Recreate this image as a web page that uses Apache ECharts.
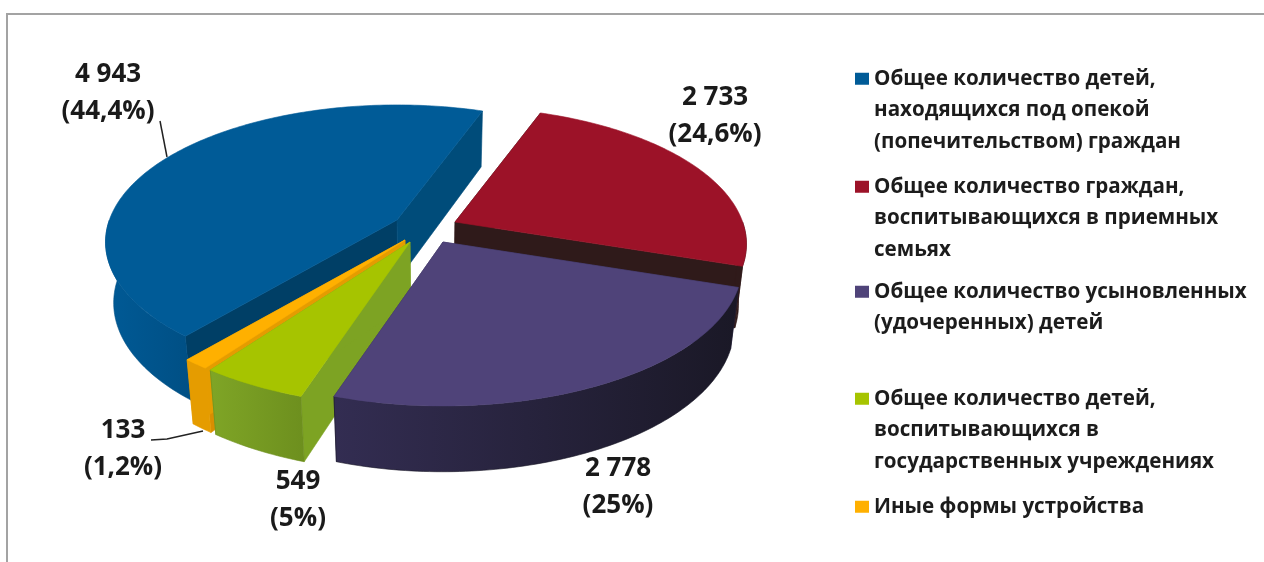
<!DOCTYPE html>
<html><head><meta charset="utf-8">
<style>html,body{margin:0;padding:0;background:#fff}#c{width:1264px;height:562px}</style>
<script src="https://cdn.jsdelivr.net/npm/echarts@6/dist/echarts.min.js"></script>
</head><body><div id="c"></div>
<script>
// --- data ---
const categories = [
  'Общее количество детей,\nнаходящихся под опекой\n(попечительством) граждан',
  'Общее количество граждан,\nвоспитывающихся в приемных\nсемьях',
  'Общее количество усыновленных\n(удочеренных) детей',
  'Общее количество детей,\nвоспитывающихся в\nгосударственных учреждениях',
  'Иные формы устройства'
];
const values = [4943, 2733, 2778, 549, 133];
const valueLabels = ['4 943', '2 733', '2 778', '549', '133'];
const percentLabels = ['(44,4%)', '(24,6%)', '(25%)', '(5%)', '(1,2%)'];
const colors = ['#005b97', '#9c1228', '#4f4379', '#a6c400', '#ffb000'];

// --- styling / layout ---
const faceStart = ['#003f66', '#2f1a1a', '#332c52', '#7da323', '#d98e00'];
const faceEnd = ['#004c7a', '#2f1a1a', '#332c52', '#7da323', '#e59c00'];
const wallLeft = ['#005a96', '#2f1a1a', '#332d52', '#7fa526', '#e59c00'];
const wallRight = ['#004f84', '#2f1a1a', '#1a1826', '#6d8f1e', '#e59c00'];
const apexX = [397, 455, 443, 410, 405];
const apexY = [220, 222, 242, 242, 240];
const radiusScale = [0.975, 0.975, 1, 1, 1];
const labelX = [108, 715, 618, 298, 123];
const labelY = [93, 116, 487, 500, 449];
const legendTop = [63, 171, 276, 383, 491];
const drawOrder = [1, 0, 4, 3, 2];
const R = 295, RY = 137, P = 0.165, H = 60, START_DEG = 20, VANISH_X = 430, LINE = 31.5;
const FONT = '"Open Sans"';

const total = values.reduce((a, b) => a + b, 0);
// slices run clockwise from the start angle: red first, blue closes the circle
const sweep = values.map(v => v / total * 360);
const ranges = [];
(function () {
  let a = START_DEG;
  [1, 2, 3, 4, 0].forEach(i => { ranges[i] = [a, a + sweep[i]]; a += sweep[i]; });
})();

function project(i, deg, rad, bottom) {
  const t = deg * Math.PI / 180;
  const X = Math.sin(t) * rad * radiusScale[i], Y = Math.cos(t) * rad * radiusScale[i];
  const s = 1 / (1 + P * Y);
  let x = apexX[i] + R * X * s;
  let y = apexY[i] - RY * Y * s;
  if (bottom) { y += H * Math.sqrt(s); x = VANISH_X + (x - VANISH_X) * 0.975; }
  return [x, y];
}
function arc(i, a, b, bottom) {
  const pts = [];
  const n = Math.max(2, Math.ceil(Math.abs(b - a)));
  for (let k = 0; k <= n; k++) pts.push(project(i, a + (b - a) * k / n, 1, bottom));
  return pts;
}
function poly(points, fill, stroke) {
  return { type: 'polygon', shape: { points }, style: { fill, stroke: stroke || fill, lineWidth: 0.6 } };
}
function renderSlice(i) {
  const [a, b] = ranges[i];
  const kids = [];
  const top0 = project(i, a, 0, false), bot0 = project(i, a, 0, true);
  // radial faces
  kids.push(poly([top0, project(i, a, 1, false), project(i, a, 1, true), bot0], faceStart[i]));
  kids.push(poly([top0, project(i, b, 1, false), project(i, b, 1, true), bot0], faceEnd[i]));
  // outer wall, visible front part only
  const fa = Math.max(a, 90), fb = Math.min(b, 270);
  if (fb > fa) {
    const pts = arc(i, fa, fb, false).concat(arc(i, fb, fa, true));
    kids.push(poly(pts, {
      type: 'linear', x: 1, y: 0, x2: 0, y2: 0,
      colorStops: [{ offset: 0, color: i === 0 || i === 3 ? wallRight[i] : wallRight[i] }, { offset: 1, color: wallLeft[i] }]
    }, wallRight[i]));
  }
  // top face
  kids.push(poly([top0].concat(arc(i, a, b, false)), colors[i]));
  // value label
  kids.push({
    type: 'text', z2: 10,
    style: {
      x: labelX[i], y: labelY[i], text: valueLabels[i] + '\n' + percentLabels[i],
      align: 'center', verticalAlign: 'middle', fill: '#1a1a1a',
      font: 'bold 26px ' + FONT, lineHeight: 37
    }
  });
  return { type: 'group', children: kids };
}

const series = drawOrder.map(i => ({
  type: 'custom', name: categories[i], coordinateSystem: 'none', silent: true,
  itemStyle: { color: colors[i] }, data: [values[i]],
  renderItem: () => renderSlice(i)
}));

const legends = categories.map((name, i) => {
  const lines = name.split('\n').length, h = lines * LINE;
  const sq = LINE / 2 - 6;
  return {
    data: [{ name, icon: `path://M0 ${sq}H14V${sq + 12}H0Z M0 0L0 0 M0 ${h}L0 ${h}` }],
    left: 855, top: legendTop[i], orient: 'vertical', padding: 0,
    itemWidth: 14, itemHeight: h, selectedMode: false,
    textStyle: { fontFamily: FONT, fontWeight: 'bold', fontSize: 20.6, lineHeight: LINE, color: '#1c1c1c' }
  };
});

const chart = echarts.init(document.getElementById('c'), null, { renderer: 'canvas' });
chart.setOption({
  animation: false,
  backgroundColor: '#ffffff',
  legend: legends,
  series,
  graphic: [
    { type: 'polyline', shape: { points: [[7, 562], [7, 14], [1264, 14]] }, style: { stroke: '#a3a3a3', lineWidth: 2, fill: null } },
    { type: 'line', shape: { x1: 160, y1: 121, x2: 167, y2: 157 }, style: { stroke: '#222', lineWidth: 1.5 } },
    { type: 'polyline', shape: { points: [[151, 440], [167, 439], [203, 431]] }, style: { stroke: '#222', lineWidth: 1.5, fill: null } }
  ]
});
</script></body></html>
